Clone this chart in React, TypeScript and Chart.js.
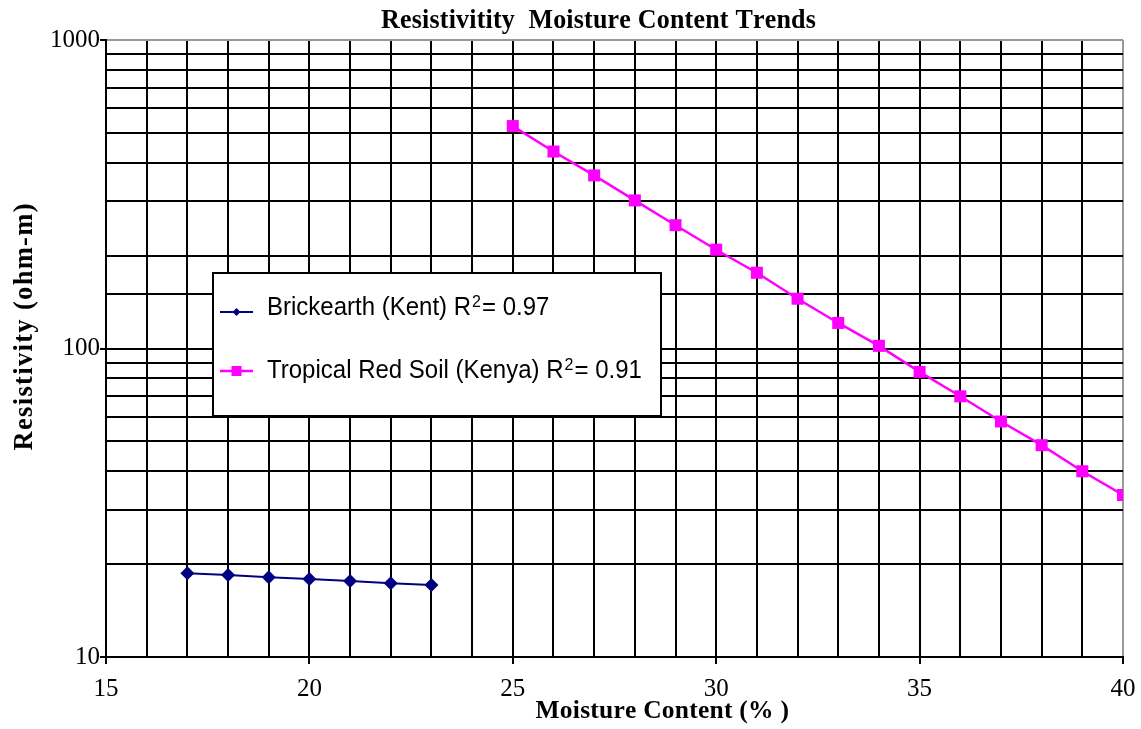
import React, { useEffect, useRef } from "react";
import { Chart, registerables } from "chart.js";

Chart.register(...registerables);

const chartTitle = "Resistivitity  Moisture Content Trends";
const xTitle = "Moisture Content (% )";
const yTitle = "Resistivity (ohm-m)";

const brickX = [17, 18, 19, 20, 21, 22, 23];
const brickY = [18.7, 18.45, 18.15, 17.9, 17.65, 17.35, 17.1];

const redX = [25, 26, 27, 28, 29, 30, 31, 32, 33, 34, 35, 36, 37, 38, 39, 40];
const redY = [526, 435, 364, 302, 251, 209, 176, 145, 121, 102, 84, 70, 58, 48.6, 40, 33.5];

const seriesLabels = ["Brickearth (Kent) R²= 0.97", "Tropical Red Soil (Kenya) R²= 0.91"];

const xMin = 15;
const xMax = 40;
const yMin = 10;
const yMax = 1000;

const SERIF = "'Times New Roman', 'Liberation Serif', serif";
const SANS = "Arial, 'Liberation Sans', sans-serif";

function drawMarker(ctx: CanvasRenderingContext2D, style: string, x: number, y: number, r: number, color: string) {
  ctx.save();
  ctx.fillStyle = color;
  ctx.beginPath();
  if (style === "rectRot") {
    ctx.moveTo(x - r, y);
    ctx.lineTo(x, y - r);
    ctx.lineTo(x + r, y);
    ctx.lineTo(x, y + r);
    ctx.closePath();
  } else {
    ctx.rect(x - r, y - r, 2 * r, 2 * r);
  }
  ctx.fill();
  ctx.restore();
}

// draws text centred at (x, baseline), spaced so it spans `span` pixels
function spacedText(ctx: CanvasRenderingContext2D, text: string, x: number, y: number, font: string, span: number, angle = 0, vstretch = 1) {
  ctx.save();
  ctx.translate(x, y);
  if (angle) ctx.rotate(angle);
  ctx.scale(1, vstretch);
  ctx.font = font;
  ctx.textAlign = "left";
  ctx.textBaseline = "alphabetic";
  const natural = ctx.measureText(text).width;
  const gap = Math.max(0, (span - natural) / Math.max(1, text.length - 1));
  let cx = -span / 2;
  for (const ch of text) {
    ctx.fillText(ch, cx, 0);
    cx += ctx.measureText(ch).width + gap;
  }
  ctx.restore();
}

function legendText(ctx: CanvasRenderingContext2D, text: string, x: number, baseline: number) {
  const parts = text.split("²");
  ctx.save();
  ctx.translate(x, baseline);
  ctx.scale(1, 1.06);
  ctx.fillStyle = "#000";
  ctx.textAlign = "left";
  ctx.textBaseline = "alphabetic";
  ctx.font = `24px ${SANS}`;
  ctx.fillText(parts[0], 0, 0);
  let cx = ctx.measureText(parts[0]).width + 1;
  if (parts.length > 1) {
    ctx.font = `16px ${SANS}`;
    ctx.fillText("2", cx, -8);
    cx += ctx.measureText("2").width + 1;
    ctx.font = `24px ${SANS}`;
    ctx.fillText(parts[1], cx, 0);
  }
  ctx.restore();
}

const textPlugin = {
  id: "textPlugin",
  afterDraw(chart: any) {
    const ctx: CanvasRenderingContext2D = chart.ctx;
    ctx.save();
    ctx.fillStyle = "#000";
    spacedText(ctx, chartTitle, 597, 28, `bold 26px ${SERIF}`, 432, 0, 1.04);
    spacedText(ctx, xTitle, 662, 718, `bold 25.5px ${SERIF}`, 253, 0, 1.0);
    spacedText(ctx, yTitle, 32, 327, `bold 26.5px ${SERIF}`, 247, -Math.PI / 2, 1.05);
    ctx.restore();

    // legend box
    const bx = 213, by = 273, bw = 448, bh = 143;
    ctx.save();
    ctx.fillStyle = "#fff";
    ctx.fillRect(bx, by, bw, bh);
    ctx.strokeStyle = "#000";
    ctx.lineWidth = 2;
    ctx.strokeRect(bx, by, bw, bh);
    const rows = [312, 371];
    const baselines = [315, 378];
    chart.data.datasets.forEach((ds: any, i: number) => {
      const y = rows[i];
      ctx.strokeStyle = ds.borderColor;
      ctx.lineWidth = ds.borderWidth;
      ctx.beginPath();
      ctx.moveTo(220, y);
      ctx.lineTo(253, y);
      ctx.stroke();
      drawMarker(ctx, ds.pointStyle, 236.5, y, i === 0 ? 4 : 5, ds.backgroundColor);
      legendText(ctx, ds.label, 267, baselines[i]);
    });
    ctx.restore();
  },
};

export default function App() {
  const ref = useRef<HTMLCanvasElement | null>(null);
  useEffect(() => {
    if (!ref.current) return;
    const chart = new Chart(ref.current, {
      type: "line",
      data: {
        datasets: [
          {
            label: seriesLabels[0],
            data: brickX.map((x, i) => ({ x, y: brickY[i] })),
            borderColor: "#000080",
            backgroundColor: "#000080",
            borderWidth: 2,
            pointStyle: "rectRot",
            pointRadius: 7,
            pointBorderWidth: 0,
          },
          {
            label: seriesLabels[1],
            data: redX.map((x, i) => ({ x, y: redY[i] })),
            borderColor: "#FF00FF",
            backgroundColor: "#FF00FF",
            borderWidth: 2.5,
            pointStyle: "rect",
            pointRadius: 8.5,
            pointBorderWidth: 0,
          },
        ],
      },
      options: {
        animation: false,
        responsive: false,
        maintainAspectRatio: false,
        layout: { padding: { left: 0, right: 18, top: 40, bottom: 0 } },
        plugins: {
          legend: { display: false },
          title: { display: false },
          tooltip: { enabled: false },
        },
        scales: {
          x: {
            type: "linear",
            min: xMin,
            max: xMax,
            afterFit: (s: any) => {
              s.height = 72;
              s.paddingLeft = 0;
              s.paddingRight = 0;
            },
            ticks: {
              stepSize: 1,
              autoSkip: false,
              maxRotation: 0,
              color: "#000",
              padding: 10,
              font: { family: SERIF, size: 25 },
              callback: (v: any) => (Number(v) % 5 === 0 ? String(v) : ""),
            },
            grid: {
              color: (c: any) => (c.tick && c.tick.value === xMax ? "#999" : "#000"),
              lineWidth: 2,
              tickLength: 7,
              tickColor: (c: any) => (c.tick && c.tick.value % 5 === 0 ? "#000" : "rgba(0,0,0,0)"),
            },
            border: { display: true, color: "#000", width: 2 },
          },
          y: {
            type: "logarithmic",
            min: yMin,
            max: yMax,
            afterFit: (s: any) => {
              s.width = 106;
              s.paddingTop = 0;
              s.paddingBottom = 0;
            },
            ticks: {
              autoSkip: false,
              color: "#000",
              padding: 0,
              font: { family: SERIF, size: 25 },
              callback: (v: any) => {
                const n = Number(v);
                const l = Math.log10(n);
                return Math.abs(l - Math.round(l)) < 1e-9 ? String(n) : "";
              },
            },
            grid: {
              color: (c: any) => (c.tick && c.tick.value === yMax ? "#999" : "#000"),
              lineWidth: 2,
              tickLength: 6,
              tickColor: (c: any) => {
                const n = c.tick ? c.tick.value : 0;
                const l = Math.log10(n);
                return Math.abs(l - Math.round(l)) < 1e-9 ? "#000" : "rgba(0,0,0,0)";
              },
            },
            border: { display: true, color: "#000", width: 2 },
          },
        },
      },
      plugins: [textPlugin],
    } as any);
    return () => chart.destroy();
  }, []);
  return (
    <div style={{ position: "absolute", left: 0, top: 0, width: 1141, height: 729, background: "#fff" }}>
      <canvas ref={ref} width={1141} height={729} style={{ width: 1141, height: 729, display: "block" }} />
    </div>
  );
}
